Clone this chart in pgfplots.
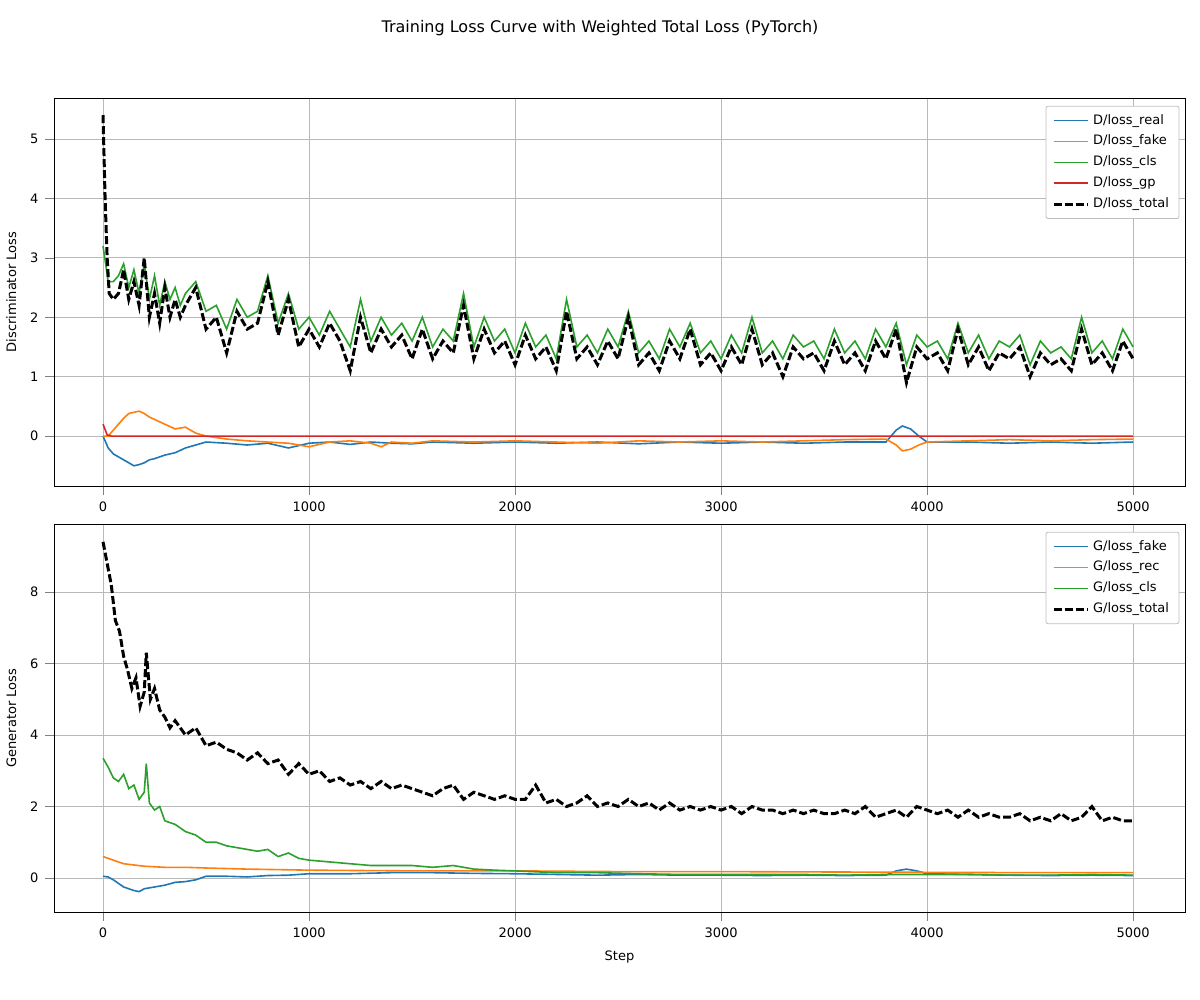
\documentclass[border=0pt]{standalone}
\usepackage{pgfplots}
\pgfplotsset{compat=1.18}
\usepackage{fontspec}
\setmainfont{DejaVu Sans}
\definecolor{c1}{HTML}{1F77B4}
\definecolor{c2}{HTML}{FF7F0E}
\definecolor{c3}{HTML}{2CA02C}
\definecolor{c4}{HTML}{D62728}
\begin{document}
\begin{tikzpicture}
\useasboundingbox (0,0) rectangle (600pt,-500pt);
\node[font=\fontsize{8}{9}\selectfont] at (300pt,-14pt) {Training Loss Curve with Weighted Total Loss (PyTorch)};
\pgfplotsset{every axis/.style={scale only axis, width=565.5pt, height=194pt, anchor=north west,
 xmin=-238, xmax=5252, grid=major, grid style={gray!55, line width=0.4pt},
 tick label style={font=\fontsize{6.5}{8}\selectfont}, label style={font=\fontsize{6.5}{8}\selectfont},
 /pgf/number format/assume math mode=true, /pgf/number format/1000 sep={},
 tick align=outside, tick pos=left, xtick={0,1000,2000,3000,4000,5000},
 legend style={at={(0.995,0.98)},anchor=north east,font=\fontsize{6.5}{8}\selectfont,draw=gray!50,rounded corners=1pt,cells={anchor=west}},
 legend cell align=left}}
\tikzset{tot/.style={black,line width=1.5pt,dash pattern=on 4pt off 1.5pt}}
\begin{axis}[at={(27pt,-49pt)}, ymin=-0.84, ymax=5.69, ytick={0,1,2,3,4,5}, ylabel={Discriminator Loss}]
\addplot[c1,thick] coordinates {(0,0)(25,-0.2)(50,-0.3)(75,-0.35)(100,-0.4)(125,-0.45)(150,-0.5)(175,-0.48)(200,-0.45)(225,-0.4)(250,-0.38)(300,-0.32)(350,-0.28)(400,-0.2)(450,-0.15)(500,-0.1)(600,-0.12)(700,-0.15)(800,-0.12)(900,-0.2)(1000,-0.12)(1100,-0.1)(1200,-0.14)(1300,-0.1)(1400,-0.12)(1500,-0.13)(1600,-0.1)(1800,-0.12)(2000,-0.1)(2200,-0.12)(2400,-0.1)(2600,-0.13)(2800,-0.1)(3000,-0.12)(3200,-0.1)(3400,-0.12)(3600,-0.1)(3800,-0.1)(3850,0.1)(3880,0.17)(3920,0.12)(3960,0)(4000,-0.1)(4200,-0.1)(4400,-0.12)(4600,-0.1)(4800,-0.12)(5000,-0.1)};
\addlegendentry{D/loss\_real}
\addplot[c2,thick] coordinates {(0,0)(25,0)(50,0.1)(75,0.2)(100,0.3)(125,0.38)(150,0.4)(175,0.42)(200,0.38)(225,0.32)(250,0.28)(300,0.2)(350,0.12)(400,0.15)(450,0.05)(500,0)(600,-0.05)(700,-0.08)(800,-0.1)(900,-0.12)(1000,-0.18)(1100,-0.1)(1200,-0.08)(1300,-0.12)(1350,-0.18)(1400,-0.1)(1500,-0.12)(1600,-0.08)(1800,-0.1)(2000,-0.08)(2200,-0.1)(2400,-0.12)(2600,-0.08)(2800,-0.1)(3000,-0.08)(3200,-0.1)(3400,-0.08)(3600,-0.06)(3800,-0.05)(3850,-0.15)(3880,-0.25)(3920,-0.22)(3960,-0.15)(4000,-0.1)(4200,-0.08)(4400,-0.06)(4600,-0.08)(4800,-0.06)(5000,-0.05)};
\addlegendentry{D/loss\_fake}
\addplot[c3,thick] coordinates {(0,3.2)(25,2.6)(50,2.6)(75,2.7)(100,2.9)(125,2.5)(150,2.8)(175,2.4)(200,2.9)(225,2.3)(250,2.7)(275,2.2)(300,2.6)(325,2.3)(350,2.5)(375,2.2)(400,2.4)(450,2.6)(500,2.1)(550,2.2)(600,1.8)(650,2.3)(700,2.0)(750,2.1)(800,2.7)(850,1.9)(900,2.4)(950,1.8)(1000,2.0)(1050,1.7)(1100,2.1)(1150,1.8)(1200,1.5)(1250,2.3)(1300,1.6)(1350,2.0)(1400,1.7)(1450,1.9)(1500,1.6)(1550,2.0)(1600,1.5)(1650,1.8)(1700,1.6)(1750,2.4)(1800,1.5)(1850,2.0)(1900,1.6)(1950,1.8)(2000,1.4)(2050,1.9)(2100,1.5)(2150,1.7)(2200,1.3)(2250,2.3)(2300,1.5)(2350,1.7)(2400,1.4)(2450,1.8)(2500,1.5)(2550,2.1)(2600,1.4)(2650,1.6)(2700,1.3)(2750,1.8)(2800,1.5)(2850,1.9)(2900,1.4)(2950,1.6)(3000,1.3)(3050,1.7)(3100,1.4)(3150,2.0)(3200,1.4)(3250,1.6)(3300,1.3)(3350,1.7)(3400,1.5)(3450,1.6)(3500,1.3)(3550,1.8)(3600,1.4)(3650,1.6)(3700,1.3)(3750,1.8)(3800,1.5)(3850,1.9)(3900,1.2)(3950,1.7)(4000,1.5)(4050,1.6)(4100,1.3)(4150,1.9)(4200,1.4)(4250,1.7)(4300,1.3)(4350,1.6)(4400,1.5)(4450,1.7)(4500,1.2)(4550,1.6)(4600,1.4)(4650,1.5)(4700,1.3)(4750,2.0)(4800,1.4)(4850,1.6)(4900,1.3)(4950,1.8)(5000,1.5)};
\addlegendentry{D/loss\_cls}
\addplot[c4,thick] coordinates {(0,0.2)(20,0.02)(40,0)(5000,0)};
\addlegendentry{D/loss\_gp}
\addplot[tot] coordinates {(0,5.4)(10,4.0)(20,3.0)(30,2.4)(50,2.3)(75,2.4)(100,2.8)(125,2.3)(150,2.6)(175,2.2)(200,3.0)(225,2.0)(250,2.4)(275,1.9)(300,2.5)(325,2.0)(350,2.3)(375,2.0)(400,2.2)(450,2.5)(500,1.8)(550,2.0)(600,1.4)(650,2.1)(700,1.8)(750,1.9)(800,2.6)(850,1.7)(900,2.3)(950,1.5)(1000,1.8)(1050,1.5)(1100,1.9)(1150,1.6)(1200,1.1)(1250,2.0)(1300,1.4)(1350,1.8)(1400,1.5)(1450,1.7)(1500,1.3)(1550,1.8)(1600,1.3)(1650,1.6)(1700,1.4)(1750,2.2)(1800,1.3)(1850,1.8)(1900,1.4)(1950,1.6)(2000,1.2)(2050,1.7)(2100,1.3)(2150,1.5)(2200,1.1)(2250,2.1)(2300,1.3)(2350,1.5)(2400,1.2)(2450,1.6)(2500,1.3)(2550,2.0)(2600,1.2)(2650,1.4)(2700,1.1)(2750,1.6)(2800,1.3)(2850,1.8)(2900,1.2)(2950,1.4)(3000,1.1)(3050,1.5)(3100,1.2)(3150,1.8)(3200,1.2)(3250,1.4)(3300,1.0)(3350,1.5)(3400,1.3)(3450,1.4)(3500,1.1)(3550,1.6)(3600,1.2)(3650,1.4)(3700,1.1)(3750,1.6)(3800,1.3)(3850,1.8)(3900,0.9)(3950,1.5)(4000,1.3)(4050,1.4)(4100,1.1)(4150,1.8)(4200,1.2)(4250,1.5)(4300,1.1)(4350,1.4)(4400,1.3)(4450,1.5)(4500,1.0)(4550,1.4)(4600,1.2)(4650,1.3)(4700,1.1)(4750,1.8)(4800,1.2)(4850,1.4)(4900,1.1)(4950,1.6)(5000,1.3)};
\addlegendentry{D/loss\_total}
\end{axis}
\begin{axis}[at={(27pt,-262pt)}, ymin=-0.95, ymax=9.9, ytick={0,2,4,6,8}, ylabel={Generator Loss}, xlabel={Step}]
\addplot[c1,thick] coordinates {(0,0.05)(25,0.03)(50,-0.05)(75,-0.15)(100,-0.25)(125,-0.3)(150,-0.35)(175,-0.38)(200,-0.3)(250,-0.25)(300,-0.2)(350,-0.12)(400,-0.1)(450,-0.05)(500,0.05)(600,0.05)(700,0.03)(800,0.07)(900,0.08)(1000,0.12)(1200,0.12)(1400,0.15)(1600,0.15)(1800,0.13)(2000,0.12)(2200,0.1)(2400,0.08)(2600,0.1)(2800,0.08)(3000,0.08)(3200,0.07)(3400,0.08)(3600,0.07)(3800,0.08)(3850,0.2)(3900,0.25)(3950,0.2)(4000,0.12)(4200,0.1)(4400,0.08)(4600,0.07)(4800,0.08)(5000,0.07)};
\addlegendentry{G/loss\_fake}
\addplot[c2,thick] coordinates {(0,0.6)(50,0.5)(100,0.4)(200,0.33)(300,0.3)(400,0.3)(500,0.28)(700,0.25)(1000,0.22)(1500,0.2)(2000,0.2)(2500,0.18)(3000,0.18)(3500,0.17)(4000,0.16)(4500,0.15)(5000,0.15)};
\addlegendentry{G/loss\_rec}
\addplot[c3,thick] coordinates {(0,3.35)(25,3.1)(50,2.8)(75,2.7)(100,2.9)(125,2.5)(150,2.6)(175,2.2)(200,2.4)(210,3.2)(225,2.1)(250,1.9)(275,2.0)(300,1.6)(350,1.5)(400,1.3)(450,1.2)(500,1.0)(550,1.0)(600,0.9)(650,0.85)(700,0.8)(750,0.75)(800,0.8)(850,0.6)(900,0.7)(950,0.55)(1000,0.5)(1100,0.45)(1200,0.4)(1300,0.35)(1400,0.35)(1500,0.35)(1600,0.3)(1700,0.35)(1800,0.25)(1900,0.22)(2000,0.2)(2200,0.15)(2400,0.15)(2600,0.12)(2800,0.1)(3000,0.1)(3200,0.1)(3400,0.1)(3600,0.08)(3800,0.1)(4000,0.1)(4200,0.1)(4400,0.08)(4600,0.08)(4800,0.1)(5000,0.08)};
\addlegendentry{G/loss\_cls}
\addplot[tot] coordinates {(0,9.4)(20,8.8)(40,8.2)(60,7.2)(80,6.9)(100,6.2)(120,5.8)(140,5.3)(160,5.6)(180,4.8)(200,5.2)(210,6.3)(230,5.0)(250,5.3)(275,4.7)(300,4.5)(325,4.2)(350,4.4)(400,4.0)(450,4.2)(500,3.7)(550,3.8)(600,3.6)(650,3.5)(700,3.3)(750,3.5)(800,3.2)(850,3.3)(900,2.9)(950,3.2)(1000,2.9)(1050,3.0)(1100,2.7)(1150,2.8)(1200,2.6)(1250,2.7)(1300,2.5)(1350,2.7)(1400,2.5)(1450,2.6)(1500,2.5)(1550,2.4)(1600,2.3)(1650,2.5)(1700,2.6)(1750,2.2)(1800,2.4)(1850,2.3)(1900,2.2)(1950,2.3)(2000,2.2)(2050,2.2)(2100,2.6)(2150,2.1)(2200,2.2)(2250,2.0)(2300,2.1)(2350,2.3)(2400,2.0)(2450,2.1)(2500,2.0)(2550,2.2)(2600,2.0)(2650,2.1)(2700,1.9)(2750,2.1)(2800,1.9)(2850,2.0)(2900,1.9)(2950,2.0)(3000,1.9)(3050,2.0)(3100,1.8)(3150,2.0)(3200,1.9)(3250,1.9)(3300,1.8)(3350,1.9)(3400,1.8)(3450,1.9)(3500,1.8)(3550,1.8)(3600,1.9)(3650,1.8)(3700,2.0)(3750,1.7)(3800,1.8)(3850,1.9)(3900,1.7)(3950,2.0)(4000,1.9)(4050,1.8)(4100,1.9)(4150,1.7)(4200,1.9)(4250,1.7)(4300,1.8)(4350,1.7)(4400,1.7)(4450,1.8)(4500,1.6)(4550,1.7)(4600,1.6)(4650,1.8)(4700,1.6)(4750,1.7)(4800,2.0)(4850,1.6)(4900,1.7)(4950,1.6)(5000,1.6)};
\addlegendentry{G/loss\_total}
\end{axis}
\end{tikzpicture}
\end{document}
